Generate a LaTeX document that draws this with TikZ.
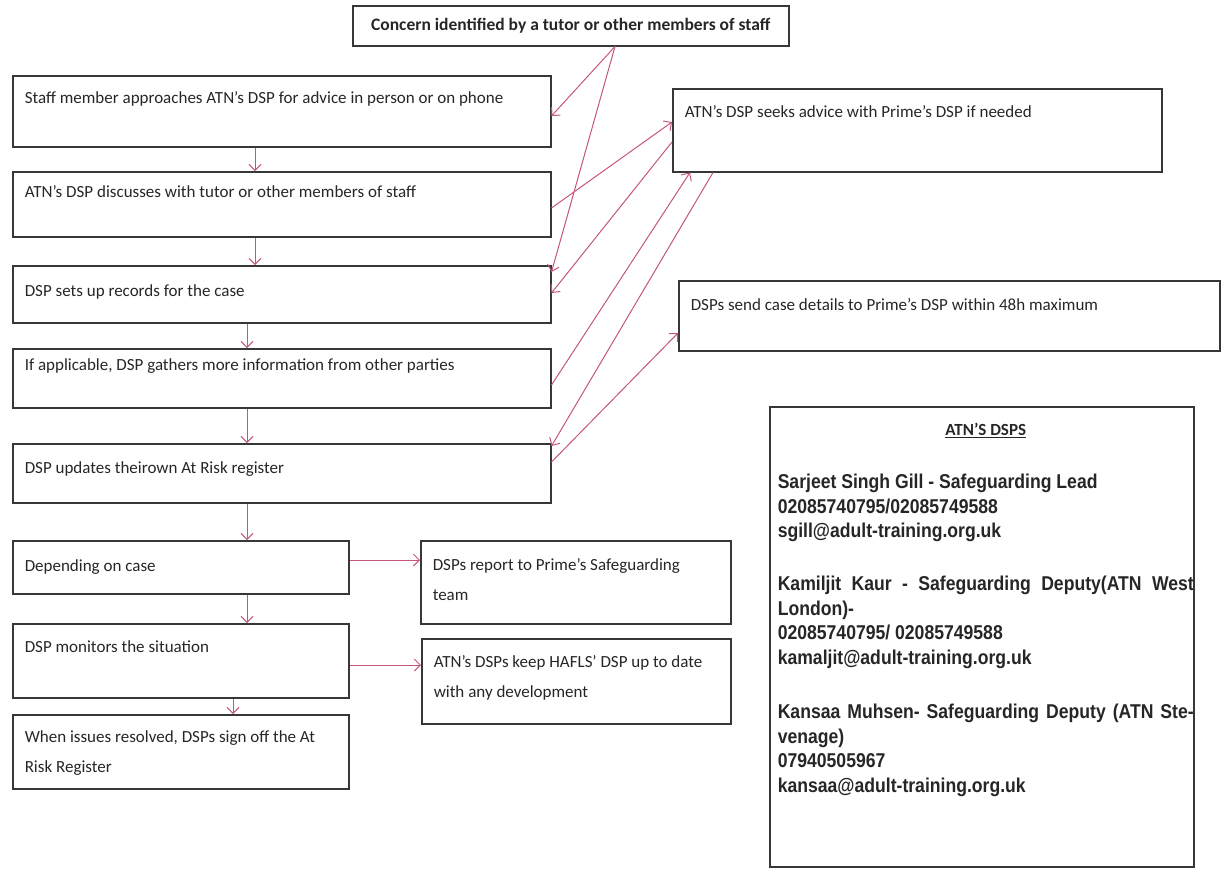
\documentclass[tikz,border=0pt]{standalone}
\usepackage{fontspec}
\setmainfont{Carlito}
\newfontfamily\contactfont[FakeStretch=0.88]{Liberation Sans}
\usetikzlibrary{arrows.meta}
\definecolor{linkpink}{RGB}{196,86,124}
\definecolor{boxgrey}{RGB}{55,55,55}
% width, height, first baseline, text
\newcommand{\steptext}[4]{\parbox[t][#2][t]{#1}{\raggedright\rule{0pt}{#3}#4}}
\begin{document}
\begin{tikzpicture}[x=1pt,y=-1pt,->,>={Straight Barb[length=6pt,width=12pt]},
  main node/.style={draw=boxgrey,line width=1.5pt,anchor=north west,inner xsep=12pt,inner ysep=0pt,text=black!85,font=\fontsize{17}{30}\selectfont},
  top node/.style={draw=boxgrey,line width=1.5pt,anchor=north west,inner sep=0pt,minimum width=436pt,minimum height=40pt,text=black!85,font=\bfseries\fontsize{17.5}{20}\selectfont},
  link/.style={draw=linkpink,line width=1pt}]
\useasboundingbox (0,0) rectangle (1226,868);
\node[top node] (1) at (352,5) {Concern identified by a tutor or other members of staff};
\node[main node] (2) at (12,75) {\steptext{514pt}{71pt}{28pt}{Staff member approaches ATN’s DSP for advice in person or on phone}};
\node[main node] (3) at (12,171) {\steptext{514pt}{65pt}{26pt}{ATN’s DSP discusses with tutor or other members of staff}};
\node[main node] (4) at (12,265) {\steptext{514pt}{57pt}{31pt}{DSP sets up records for the case}};
\node[main node] (5) at (12,348) {\steptext{514pt}{59pt}{22pt}{If applicable, DSP gathers more information from other parties}};
\node[main node] (6) at (12,443) {\steptext{514pt}{59pt}{30pt}{DSP updates theirown At Risk register}};
\node[main node] (7) at (12,540) {\steptext{312pt}{53pt}{31pt}{Depending on case}};
\node[main node] (8) at (12,623) {\steptext{312pt}{74pt}{29pt}{DSP monitors the situation}};
\node[main node] (9) at (12,714) {\steptext{312pt}{74pt}{28pt}{When issues resolved, DSPs sign off the At\\Risk Register}};
\node[main node] (10) at (672,88) {\steptext{465pt}{83pt}{29pt}{ATN’s DSP seeks advice with Prime’s DSP if needed}};
\node[main node] (11) at (678,280) {\steptext{517pt}{70pt}{30pt}{DSPs send case details to Prime’s DSP within 48h maximum}};
\node[main node] (12) at (420,540) {\steptext{286pt}{83pt}{30pt}{DSPs report to Prime’s Safeguarding\\team}};
\node[main node] (13) at (421,638) {\steptext{285pt}{85pt}{29pt}{ATN’s DSPs keep HAFLS’ DSP up to date\\with any development}};
\node[main node,inner xsep=0pt] (14) at (769,406) {\hspace{8pt}\parbox[t][460pt][t]{416pt}{%
  {\centering\rule{0pt}{29pt}\fontsize{17}{19}\selectfont\bfseries\underline{ATN’S DSPS}\par}
  \vspace{28.5pt}
  {\contactfont\bfseries\fontsize{20}{24.5}\selectfont\raggedright
  Sarjeet Singh Gill - Safeguarding Lead\\
  02085740795/02085749588\\
  sgill@adult-training.org.uk\\[28.5pt]
  \makebox[\linewidth][s]{Kamiljit Kaur - Safeguarding Deputy(ATN West}\\
  London)-\\
  02085740795/ 02085749588\\
  kamaljit@adult-training.org.uk\\[30pt]
  \makebox[\linewidth][s]{Kansaa Muhsen- Safeguarding Deputy (ATN Ste-}\\
  venage)\\
  07940505967\\
  kansaa@adult-training.org.uk\par}}\hspace{13pt}};
% down the main column
\draw[link] ([xshift=243pt]2.south west) -- ([xshift=243pt]3.north west);
\draw[link] ([xshift=243pt]3.south west) -- ([xshift=243pt]4.north west);
\draw[link] ([xshift=235pt]4.south west) -- ([xshift=235pt]5.north west);
\draw[link] ([xshift=235pt]5.south west) -- ([xshift=235pt]6.north west);
\draw[link] ([xshift=235pt]6.south west) -- ([xshift=235pt]7.north west);
\draw[link] ([xshift=235pt]7.south west) -- ([xshift=235pt]8.north west);
\draw[link] ([xshift=221pt]8.south west) -- ([xshift=221pt]9.north west);
% side boxes
\draw[link] ([yshift=-20pt]7.north east) -- ([yshift=-20pt]12.north west);
\draw[link] ([yshift=-42pt]8.north east) -- ([yshift=-27pt]13.north west);
% crossing links
\draw[link] ([xshift=263pt]1.south west) -- ([yshift=-41pt]2.north east);
\draw[link] ([xshift=263pt]1.south west) -- ([yshift=-7pt]4.north east);
\draw[link] ([yshift=-37pt]3.north east) -- ([yshift=-34pt]10.north west);
\draw[link] ([yshift=-54pt]10.north west) -- ([yshift=-28pt]4.north east);
\draw[link] ([yshift=-37pt]5.north east) -- ([xshift=18pt]10.south west);
\draw[link] ([xshift=41pt]10.south west) -- ([yshift=-3pt]6.north east);
\draw[link] ([yshift=-19pt]6.north east) -- ([yshift=-53pt]11.north west);
\end{tikzpicture}
\end{document}
